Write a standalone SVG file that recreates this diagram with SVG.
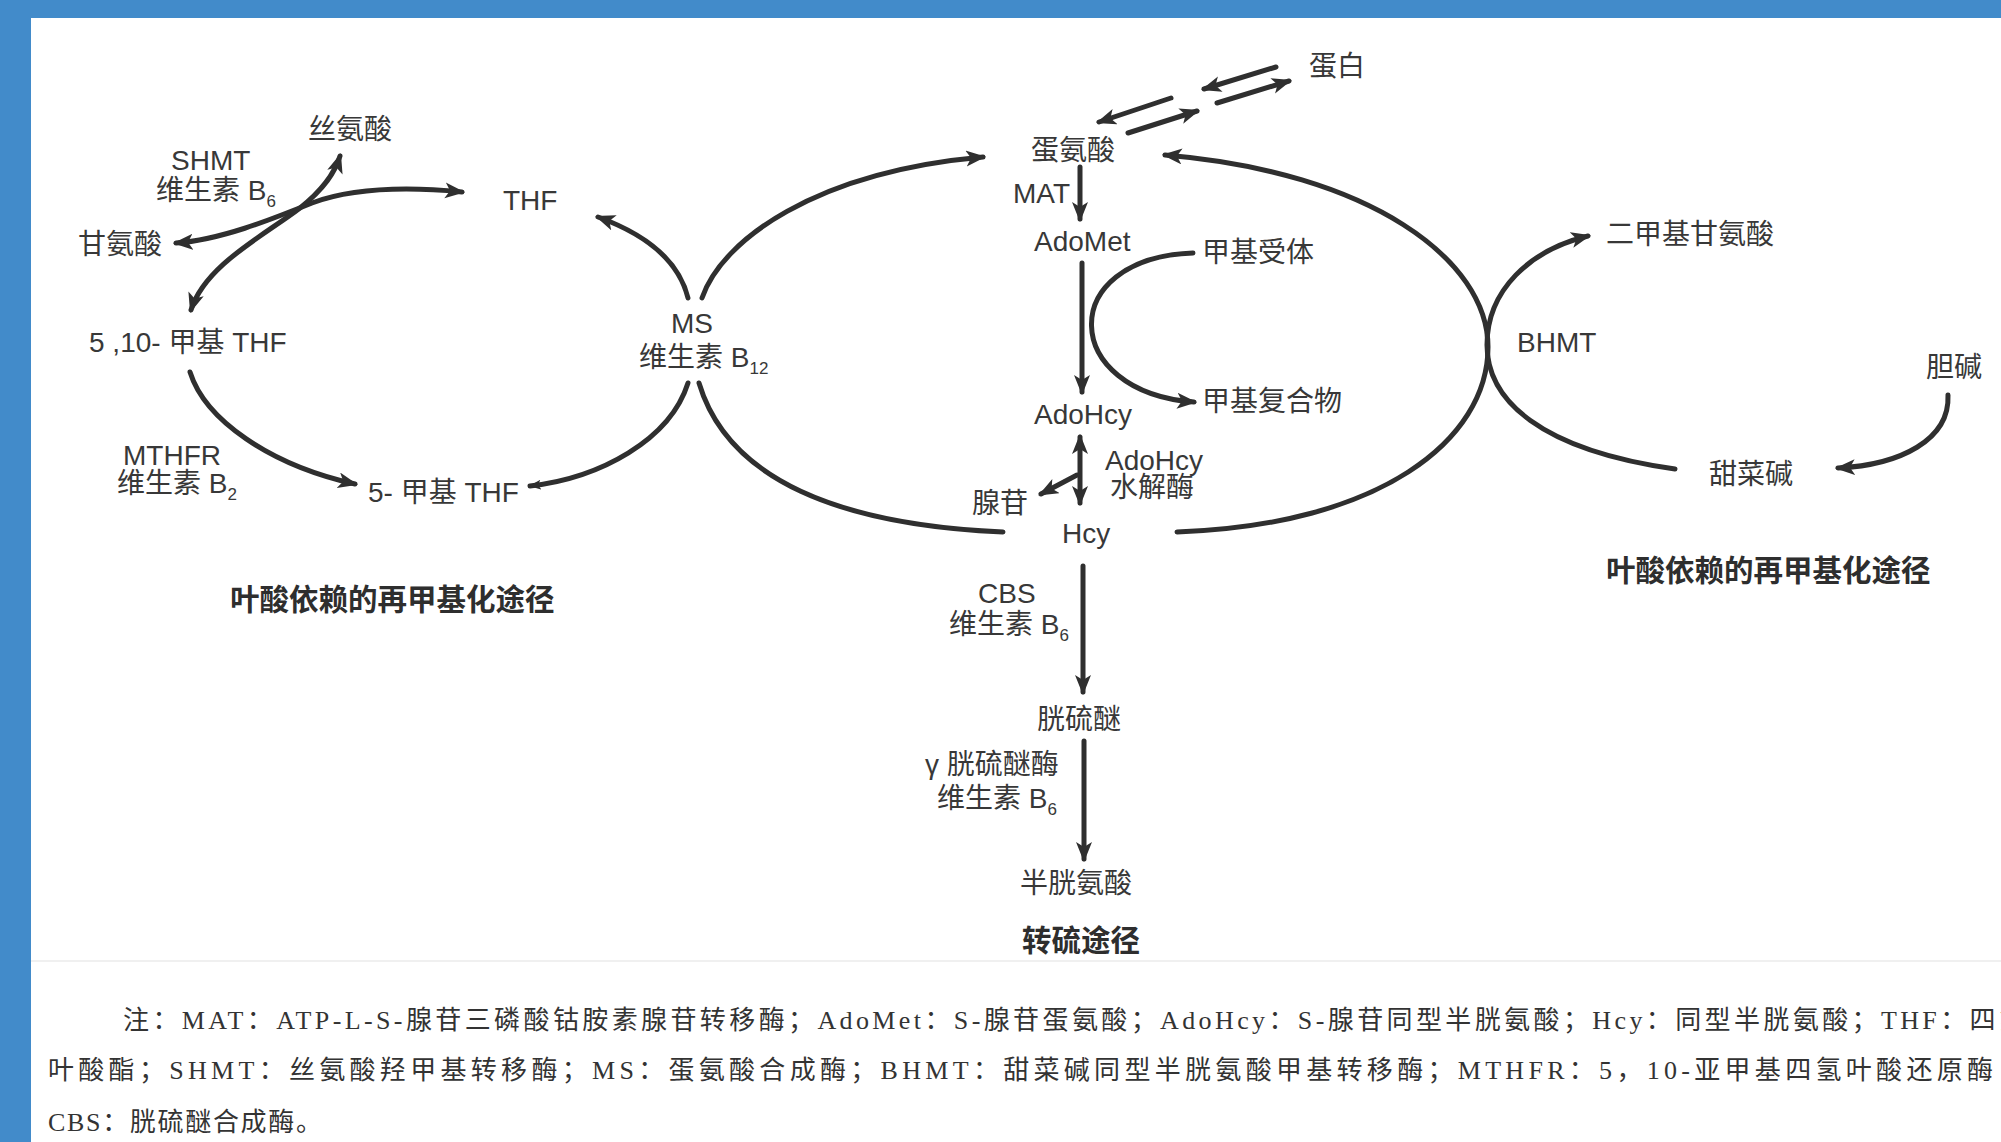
<svg xmlns="http://www.w3.org/2000/svg" width="2001" height="1142" viewBox="0 0 2001 1142">
<defs>
<style>
.t{font-family:"Liberation Sans","Noto Sans CJK SC",sans-serif;font-size:28px;fill:#383838}
.b{font-family:"Liberation Sans","Noto Sans CJK SC",sans-serif;font-size:29.5px;font-weight:bold;fill:#2e2e2e}
.s{font-size:17px}
.c{font-family:"Liberation Serif","Noto Sans CJK SC",serif;font-size:26px;fill:#333333}
.ln{fill:none;stroke:#2f2f2f;stroke-width:5;stroke-linecap:round}
.a{marker-end:url(#ah)}
.aa{marker-start:url(#ah);marker-end:url(#ah)}
</style>
<marker id="ah" markerUnits="userSpaceOnUse" markerWidth="22" markerHeight="18" refX="17" refY="8" orient="auto-start-reverse" viewBox="0 0 22 18">
<path d="M0,0 L20,8 L0,16 L5,8 z" fill="#2f2f2f"/>
</marker>
<marker id="ahs" markerUnits="userSpaceOnUse" markerWidth="14" markerHeight="12" refX="11" refY="5" orient="auto" viewBox="0 0 14 12">
<path d="M0,0 L12,5 L0,10 L3,5 z" fill="#2f2f2f"/>
</marker>
</defs>
<rect x="0" y="0" width="2001" height="1142" fill="#428bca"/>
<rect x="31" y="18" width="1970" height="1124" fill="#ffffff"/>
<line x1="31" y1="961" x2="2001" y2="961" stroke="#f0f0f0" stroke-width="2"/>

<g id="connectors">
<path class="ln aa" d="M191 310 C205 265 265 235 300 208 C325 188 335 172 340 156"/>
<path class="ln aa" d="M176 243 C220 240 270 220 312 203 C350 189 400 186 462 192"/>
<path class="ln a" d="M688 298 Q675 245 598 217"/>
<path class="ln a" d="M702 298 C722 240 815 172 983 157"/>
<path class="ln" d="M688 383 C670 440 600 478 530 486" marker-end="url(#ahs)"/>
<path class="ln" d="M699 383 C728 480 840 525 1003 532"/>
<path class="ln a" d="M190 372 C205 420 270 465 355 484"/>
<path class="ln a" d="M1177 532 C1380 525 1488 440 1488 347 C1488 260 1370 172 1165 155"/>
<path class="ln a" d="M1675 469 C1540 450 1487 400 1487 345 C1487 290 1530 250 1588 236"/>
<path class="ln a" d="M1948 395 C1950 440 1900 465 1838 468"/>
<path class="ln a" d="M1080 167 L1080 219"/>
<path class="ln a" d="M1082 263 L1082 392"/>
<path class="ln a" d="M1193 253 C1055 258 1060 392 1194 402"/>
<path class="ln aa" d="M1080 437 L1080 503"/>
<path class="ln a" d="M1077 475 L1041 494"/>
<path class="ln a" d="M1083 566 L1083 692"/>
<path class="ln a" d="M1084 741 L1084 859"/>
<path class="ln a" d="M1171 98 L1099 122"/>
<path class="ln a" d="M1128 133 L1197 111"/>
<path class="ln a" d="M1276 67 L1204 89"/>
<path class="ln a" d="M1217 103 L1289 81"/>
</g>

<g id="node-serine"><text class="t" x="308" y="139">丝氨酸</text></g>
<g id="label-shmt"><text class="t" x="171" y="170">SHMT</text><text class="t" x="156" y="200">维生素 B<tspan class="s" dy="7">6</tspan></text></g>
<g id="node-glycine"><text class="t" x="78" y="254">甘氨酸</text></g>
<g id="node-thf"><text class="t" x="503" y="210">THF</text></g>
<g id="node-methylene-thf"><text class="t" x="89" y="352">5 ,10- 甲基 THF</text></g>
<g id="label-mthfr"><text class="t" x="123" y="465">MTHFR</text><text class="t" x="117" y="493">维生素 B<tspan class="s" dy="7">2</tspan></text></g>
<g id="node-methyl-thf"><text class="t" x="368" y="502">5- 甲基 THF</text></g>
<g id="title-left"><text class="b" x="230" y="610">叶酸依赖的再甲基化途径</text></g>
<g id="label-ms"><text class="t" x="692" y="333" text-anchor="middle">MS</text><text class="t" x="639" y="367">维生素 B<tspan class="s" dy="7">12</tspan></text></g>
<g id="node-met"><text class="t" x="1031" y="160">蛋氨酸</text></g>
<g id="node-protein"><text class="t" x="1309" y="76">蛋白</text></g>
<g id="label-mat"><text class="t" x="1013" y="203">MAT</text></g>
<g id="node-adomet"><text class="t" x="1034" y="251">AdoMet</text></g>
<g id="node-acceptor"><text class="t" x="1202" y="262">甲基受体</text></g>
<g id="node-methyl-complex"><text class="t" x="1202" y="411">甲基复合物</text></g>
<g id="node-adohcy"><text class="t" x="1034" y="424">AdoHcy</text></g>
<g id="label-hydrolase"><text class="t" x="1105" y="470">AdoHcy</text><text class="t" x="1110" y="497">水解酶</text></g>
<g id="node-adenosine"><text class="t" x="972" y="513">腺苷</text></g>
<g id="node-hcy"><text class="t" x="1062" y="543">Hcy</text></g>
<g id="label-cbs"><text class="t" x="978" y="603">CBS</text><text class="t" x="949" y="634">维生素 B<tspan class="s" dy="7">6</tspan></text></g>
<g id="node-cystathionine"><text class="t" x="1037" y="729">胱硫醚</text></g>
<g id="label-cgl"><text class="t" x="925" y="774">γ 胱硫醚酶</text><text class="t" x="937" y="808">维生素 B<tspan class="s" dy="7">6</tspan></text></g>
<g id="node-cysteine"><text class="t" x="1020" y="893">半胱氨酸</text></g>
<g id="title-center"><text class="b" x="1022" y="951">转硫途径</text></g>
<g id="node-dmg"><text class="t" x="1606" y="244">二甲基甘氨酸</text></g>
<g id="label-bhmt"><text class="t" x="1517" y="352">BHMT</text></g>
<g id="node-choline"><text class="t" x="1926" y="377">胆碱</text></g>
<g id="node-betaine"><text class="t" x="1709" y="484">甜菜碱</text></g>
<g id="title-right"><text class="b" x="1606" y="581">叶酸依赖的再甲基化途径</text></g>

<g id="caption">
<text class="c" x="123" y="1029" textLength="1902" lengthAdjust="spacing">注：MAT：ATP-L-S-腺苷三磷酸钴胺素腺苷转移酶；AdoMet：S-腺苷蛋氨酸；AdoHcy：S-腺苷同型半胱氨酸；Hcy：同型半胱氨酸；THF：四氢</text>
<text class="c" x="48" y="1079" textLength="1945" lengthAdjust="spacing">叶酸酯；SHMT：丝氨酸羟甲基转移酶；MS：蛋氨酸合成酶；BHMT：甜菜碱同型半胱氨酸甲基转移酶；MTHFR：5，10-亚甲基四氢叶酸还原酶</text>
<text class="c" x="48" y="1131" textLength="274" lengthAdjust="spacing">CBS：胱硫醚合成酶。</text>
</g>
</svg>
